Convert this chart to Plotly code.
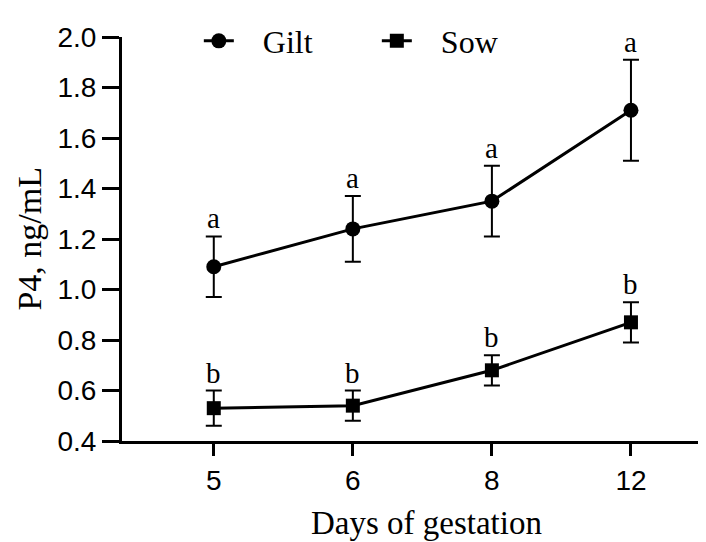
import plotly.graph_objects as go

days = ["5", "6", "8", "12"]
gilt_mean = [1.09, 1.24, 1.35, 1.71]
gilt_err = [0.12, 0.13, 0.14, 0.20]
gilt_letters = ["a", "a", "a", "a"]
sow_mean = [0.53, 0.54, 0.68, 0.87]
sow_err = [0.07, 0.06, 0.06, 0.08]
sow_letters = ["b", "b", "b", "b"]
y_ticks = [0.4, 0.6, 0.8, 1.0, 1.2, 1.4, 1.6, 1.8, 2.0]

xpos = list(range(len(days)))
SERIF = "Liberation Serif, Times New Roman, serif"
SANS = "Liberation Sans, Arial, sans-serif"
PAD = "\u00a0\u00a0\u00a0"

fig = go.Figure()
fig.add_trace(go.Scatter(
    x=xpos, y=gilt_mean, name=PAD + "Gilt", mode="lines+markers",
    line=dict(color="black", width=3),
    marker=dict(symbol="circle", size=15, color="black"),
    error_y=dict(type="data", array=gilt_err, visible=True, color="black", thickness=2, width=8),
))
fig.add_trace(go.Scatter(
    x=xpos, y=sow_mean, name=PAD + "Sow", mode="lines+markers",
    line=dict(color="black", width=3),
    marker=dict(symbol="square", size=14, color="black"),
    error_y=dict(type="data", array=sow_err, visible=True, color="black", thickness=2, width=8),
))

for xs, ms, es, ls in [(xpos, gilt_mean, gilt_err, gilt_letters), (xpos, sow_mean, sow_err, sow_letters)]:
    for x, m, e, l in zip(xs, ms, es, ls):
        fig.add_annotation(x=x, y=m + e, text=l, showarrow=False, yshift=18,
                           font=dict(family=SERIF, size=29, color="black"))

fig.add_annotation(xref="paper", yref="paper", x=0.516, y=-0.252, text="Days of gestation",
                   showarrow=False, xanchor="center", yanchor="bottom",
                   font=dict(family=SERIF, size=33, color="black"))
fig.add_annotation(xref="paper", yref="paper", x=-0.158, y=0.5, text="P4, ng/mL",
                   showarrow=False, textangle=-90, xanchor="center", yanchor="middle",
                   font=dict(family=SERIF, size=34, color="black"))

fig.update_layout(
    width=706, height=542,
    margin=dict(l=114, r=1, t=29, b=109, autoexpand=False),
    plot_bgcolor="white", paper_bgcolor="white",
    showlegend=True,
    legend=dict(orientation="h", x=0.13, y=0.99, xanchor="left", yanchor="middle",
                font=dict(family=SERIF, size=32, color="black"),
                bgcolor="rgba(0,0,0,0)", itemwidth=30, entrywidth=133, entrywidthmode="pixels"),
    xaxis=dict(range=[-0.66, 3.59], tickvals=xpos, ticktext=days, automargin=False,
               showline=True, linecolor="black", linewidth=3,
               ticks="outside", ticklen=12, tickwidth=3, tickcolor="black",
               showgrid=False, zeroline=False,
               tickfont=dict(family=SANS, size=28, color="black")),
    yaxis=dict(range=[0.4, 2.0], tickvals=y_ticks, ticktext=[f"{v:.1f}" for v in y_ticks],
               automargin=False,
               showline=True, linecolor="black", linewidth=3,
               ticks="outside", ticklen=17, tickwidth=3, tickcolor="black",
               showgrid=False, zeroline=False,
               tickfont=dict(family=SANS, size=28, color="black")),
)

fig.write_html("out.html")
